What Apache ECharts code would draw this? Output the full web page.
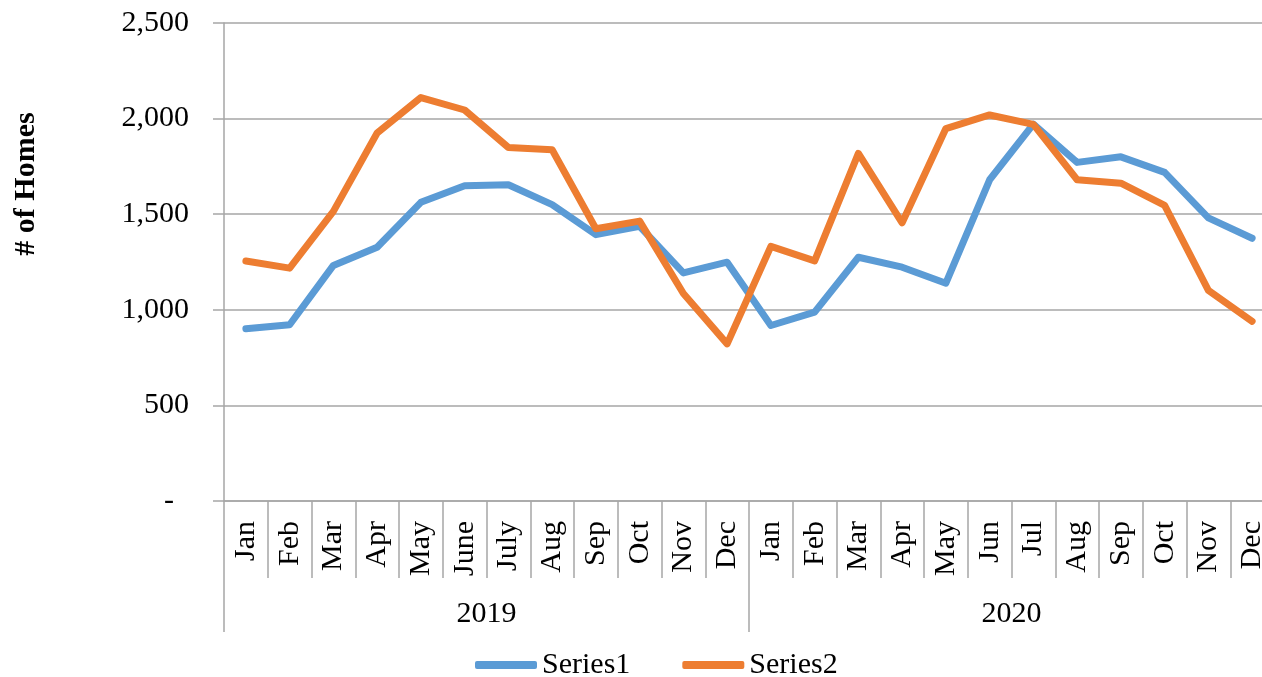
<!DOCTYPE html>
<html>
<head>
<meta charset="utf-8">
<script src="https://cdn.jsdelivr.net/npm/echarts@6/dist/echarts.min.js"></script>
<style>
html,body{margin:0;padding:0;background:#fff;overflow:hidden;width:1262px;height:677px;}
#chart{width:1280px;height:677px;}
</style>
</head>
<body>
<div id="chart"></div>
<script>
const months = ['Jan','Feb','Mar','Apr','May','June','July','Aug','Sep','Oct','Nov','Dec',
                'Jan','Feb','Mar','Apr','May','Jun','Jul','Aug','Sep','Oct','Nov','Dec'];
const years = ['2019','2020'];
const series1 = [901,922,1232,1327,1562,1649,1654,1550,1393,1437,1193,1249,
                 918,988,1275,1223,1139,1680,1971,1771,1800,1719,1481,1374];
const series2 = [1255,1218,1515,1925,2110,2045,1849,1837,1424,1464,1085,822,
                 1332,1256,1818,1455,1948,2019,1970,1680,1662,1546,1102,940];
const yTicks = [0,500,1000,1500,2000,2500];

const FONT = "'Liberation Serif','Times New Roman',serif";
const GRAY = '#a6a6a6';

const chart = echarts.init(document.getElementById('chart'));
chart.setOption({
  backgroundColor: '#fff',
  animation: false,
  color: ['#5b9bd5','#ed7d31'],
  grid: { left: 224, top: 23, width: 1050, height: 478, containLabel: false },
  graphic: [{
    type: 'text',
    x: 26, y: 184,
    rotation: Math.PI / 2,
    style: {
      text: '# of Homes',
      font: 'bold 30px ' + FONT,
      fill: '#000',
      align: 'center',
      verticalAlign: 'middle'
    }
  }],
  legend: {
    data: ['Series1','Series2'],
    left: 470, top: 645,
    icon: 'roundRect',
    itemWidth: 62, itemHeight: 8,
    itemGap: 52,
    textStyle: { fontFamily: FONT, fontSize: 30, color: '#000' }
  },
  xAxis: [{
    type: 'category',
    data: months,
    boundaryGap: true,
    position: 'bottom',
    axisLine: { show: true, lineStyle: { color: GRAY, width: 1.5 } },
    axisTick: { show: true, interval: 0, length: 77, lineStyle: { color: GRAY, width: 1.5 } },
    axisLabel: { interval: 0, rotate: 90, margin: 20, fontFamily: FONT, fontSize: 30, color: '#000' },
    splitLine: { show: false }
  }, {
    type: 'category',
    data: years,
    boundaryGap: true,
    position: 'bottom',
    offset: 0,
    axisLine: { show: false },
    axisTick: { show: true, interval: 0, length: 131, lineStyle: { color: GRAY, width: 1.5 } },
    axisLabel: { interval: 0, margin: 98, fontFamily: FONT, fontSize: 30, color: '#000' },
    splitLine: { show: false }
  }],
  yAxis: {
    type: 'value',
    min: yTicks[0], max: yTicks[yTicks.length - 1], interval: 500,
    axisLine: { show: true, lineStyle: { color: GRAY, width: 1.5 } },
    axisTick: { show: true, length: 11, lineStyle: { color: GRAY, width: 1.5 } },
    splitLine: { show: true, lineStyle: { color: GRAY, width: 1.5 } },
    axisLabel: {
      margin: 35, fontFamily: FONT, fontSize: 30, color: '#000',
      formatter: function (v) { return v === 0 ? '-  ' : v.toLocaleString('en-US'); }
    }
  },
  series: [{
    name: 'Series1', type: 'line', data: series1, xAxisIndex: 0,
    symbol: 'none', lineStyle: { width: 7, cap: 'round', join: 'round' }
  }, {
    name: 'Series2', type: 'line', data: series2, xAxisIndex: 0,
    symbol: 'none', lineStyle: { width: 7, cap: 'round', join: 'round' }
  }]
});
</script>
</body>
</html>
